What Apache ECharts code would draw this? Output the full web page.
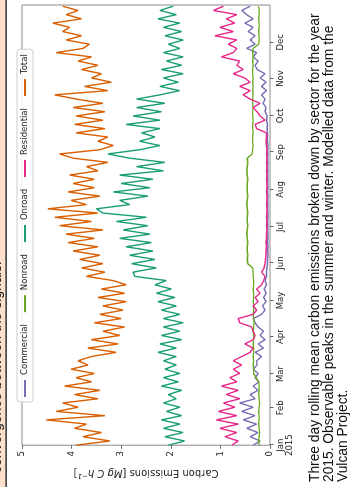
<!DOCTYPE html>
<html>
<head>
<meta charset="utf-8">
<script src="https://cdn.jsdelivr.net/npm/echarts@6/dist/echarts.min.js"></script>
<style>
  html, body { margin: 0; padding: 0; background: #fff; overflow: hidden; }
  /* the page is photographed turned a quarter turn, so the chart is drawn upright and rotated */
  #chart {
    position: absolute; left: 0; top: 0;
    width: 487px; height: 357px;
    transform-origin: 0 0;
    transform: translate(0, 487px) rotate(-90deg);
  }
</style>
</head>
<body>
<div id="chart"></div>
<script>
// days since 1 Jan 2015, one sample every half week
const sampleDays = [0, 3.5, 7, 10.5, 14, 17.5, 21, 24.5, 28, 31.5, 35, 38.5, 42, 45.5, 49, 52.5, 56, 59.5, 63, 66.5,
  70, 73.5, 77, 80.5, 84, 87.5, 91, 94.5, 98, 101.5, 105, 108.5, 112, 115.5, 119, 122.5, 126, 129.5, 133, 136.5, 140,
  143.5, 147, 150.5, 154, 157.5, 161, 164.5, 168, 171.5, 175, 178.5, 182, 185.5, 189, 192.5, 196, 199.5, 203, 206.5, 210, 213.5,
  217, 220.5, 224, 227.5, 231, 234.5, 238, 241.5, 245, 248.5, 252, 255.5, 259, 262.5, 266, 269.5, 273, 276.5, 280, 283.5, 287, 290.5,
  294, 297.5, 301, 304.5, 308, 311.5, 315, 318.5, 322, 325.5, 329, 332.5, 336, 339.5, 343, 346.5, 350, 353.5, 357, 360.5, 364];

const commercial = [0.34, 0.20, 0.40, 0.24, 0.47, 0.27, 0.54, 0.30, 0.57, 0.34, 0.61, 0.30, 0.40, 0.24, 0.34, 0.22, 0.30, 0.24, 0.34, 0.26,
  0.27, 0.17, 0.30, 0.13, 0.24, 0.10, 0.20, 0.13, 0.24, 0.30, 0.34, 0.17, 0.10, 0.15, 0.08, 0.13, 0.08, 0.12, 0.07, 0.10, 0.07,
  0.07, 0.06, 0.05, 0.05, 0.04, 0.05, 0.04, 0.05, 0.04, 0.04, 0.05, 0.04, 0.05, 0.04, 0.04, 0.05, 0.04, 0.05, 0.04, 0.05, 0.04,
  0.05, 0.04, 0.05, 0.04, 0.05, 0.04, 0.05, 0.04, 0.05, 0.04, 0.05, 0.05, 0.05, 0.06, 0.05, 0.07, 0.06, 0.10, 0.08, 0.14, 0.10, 0.17,
  0.07, 0.17, 0.08, 0.20, 0.10, 0.26, 0.30, 0.24, 0.34, 0.27, 0.47, 0.30, 0.40, 0.30, 0.44, 0.34, 0.51, 0.34, 0.47, 0.57, 0.40];

const nonroad = [0.22, 0.23, 0.22, 0.21, 0.22, 0.23, 0.22, 0.22, 0.23, 0.22, 0.21, 0.22, 0.23, 0.22, 0.22, 0.23, 0.28, 0.33, 0.33, 0.34,
  0.33, 0.34, 0.33, 0.33, 0.34, 0.33, 0.33, 0.34, 0.33, 0.32, 0.33, 0.34, 0.33, 0.33, 0.34, 0.33, 0.33, 0.34, 0.33, 0.33, 0.34,
  0.34, 0.35, 0.45, 0.46, 0.45, 0.46, 0.46, 0.45, 0.46, 0.47, 0.46, 0.45, 0.46, 0.46, 0.45, 0.46, 0.47, 0.46, 0.45, 0.46, 0.46,
  0.46, 0.45, 0.46, 0.47, 0.46, 0.45, 0.46, 0.36, 0.35, 0.34, 0.35, 0.35, 0.34, 0.35, 0.35, 0.34, 0.35, 0.35, 0.34, 0.35, 0.35, 0.34,
  0.35, 0.34, 0.35, 0.34, 0.35, 0.35, 0.34, 0.35, 0.34, 0.35, 0.34, 0.23, 0.22, 0.22, 0.23, 0.22, 0.22, 0.23, 0.22, 0.22, 0.23];

const onroad = [2.05, 1.72, 2.12, 1.75, 2.15, 1.82, 2.19, 1.78, 2.09, 1.82, 2.15, 1.89, 2.05, 1.78, 2.19, 1.85, 2.15, 1.82, 2.12, 1.89,
  2.15, 1.89, 2.26, 1.89, 2.22, 1.78, 2.19, 1.82, 2.15, 1.75, 2.15, 1.82, 2.19, 1.89, 2.26, 1.92, 2.29, 1.99, 2.32, 2.09, 2.73,
  2.76, 2.29, 2.79, 2.32, 2.83, 2.36, 2.90, 2.39, 3.03, 2.42, 2.96, 2.46, 3.10, 2.49, 3.37, 3.50, 2.83, 3.03, 2.46, 3.16, 2.42,
  3.00, 2.36, 3.03, 2.15, 2.69, 2.12, 2.83, 3.27, 2.63, 2.22, 2.63, 2.32, 2.59, 2.22, 2.90, 2.22, 2.76, 2.19, 2.69, 2.12, 2.69, 2.22,
  1.82, 2.22, 1.85, 2.15, 1.75, 2.19, 1.78, 2.09, 1.75, 2.15, 1.82, 2.05, 1.75, 2.12, 1.78, 2.15, 1.82, 2.26, 1.89, 2.22, 1.95];

const residential = [0.77, 0.64, 0.91, 0.67, 1.01, 0.64, 1.08, 0.67, 1.04, 0.71, 0.94, 0.61, 0.88, 0.64, 0.98, 0.67, 0.81, 0.61, 0.74, 0.57,
  0.74, 0.57, 0.40, 0.34, 0.51, 0.34, 0.30, 0.34, 0.37, 0.61, 0.64, 0.34, 0.27, 0.34, 0.24, 0.30, 0.20, 0.27, 0.17, 0.13, 0.10,
  0.17, 0.12, 0.10, 0.09, 0.08, 0.08, 0.07, 0.08, 0.07, 0.07, 0.06, 0.07, 0.06, 0.07, 0.06, 0.06, 0.07, 0.06, 0.06, 0.07, 0.06,
  0.06, 0.07, 0.06, 0.07, 0.06, 0.07, 0.06, 0.07, 0.06, 0.07, 0.08, 0.07, 0.07, 0.27, 0.30, 0.10, 0.20, 0.26, 0.34, 0.20, 0.40, 0.54,
  0.40, 0.61, 0.40, 0.51, 0.74, 0.54, 0.67, 0.61, 0.98, 0.74, 0.67, 0.84, 0.67, 1.11, 0.74, 1.01, 0.71, 0.88, 0.67, 1.14, 0.94];

const total = [3.91, 3.23, 3.77, 3.40, 3.94, 3.70, 4.51, 3.33, 4.31, 3.87, 4.18, 3.47, 3.94, 3.43, 4.14, 3.60, 3.91, 3.54, 4.01, 3.67,
  3.87, 3.60, 3.10, 3.67, 3.06, 3.60, 3.03, 3.37, 2.93, 3.54, 3.00, 3.43, 2.96, 3.37, 2.90, 3.47, 2.93, 3.40, 2.90, 3.16, 3.70,
  3.33, 3.80, 3.37, 3.84, 3.43, 3.97, 3.47, 4.07, 3.54, 4.11, 3.37, 4.24, 3.60, 4.34, 3.47, 4.48, 3.70, 4.01, 3.43, 4.07, 3.54,
  3.97, 3.54, 4.04, 3.47, 3.70, 3.27, 3.97, 4.24, 3.43, 3.16, 3.47, 3.27, 3.91, 3.33, 3.94, 3.37, 3.91, 3.33, 3.97, 3.37, 3.91, 4.34,
  3.27, 3.74, 3.20, 3.60, 3.40, 3.80, 3.47, 3.87, 3.60, 4.31, 3.77, 3.64, 4.11, 3.80, 4.18, 4.04, 4.38, 3.80, 4.11, 3.87, 4.18];

const monthDays = [0, 31, 59, 90, 120, 151, 181, 212, 243, 273, 304, 334];
const monthLabels = ['Jan\n2015', 'Feb', 'Mar', 'Apr', 'May', 'Jun', 'Jul', 'Aug', 'Sep', 'Oct', 'Nov', 'Dec'];
const valueTicks = [0, 1, 2, 3, 4, 5];

const sectorNames = ['Commercial', 'Nonroad', 'Onroad', 'Residential', 'Total'];
const sectorValues = [commercial, nonroad, onroad, residential, total];
const sectorColors = ['#7570b3', '#66a61e', '#1b9e77', '#e7298a', '#d95f02'];

const captionLines = [
  'Three day rolling mean carbon emissions broken down by sector for the year',
  '2015. Observable peaks in the summer and winter. Modelled data from the',
  'Vulcan Project.'
];

const myChart = echarts.init(document.getElementById('chart'), null, { renderer: 'canvas' });
const FONT = 'DejaVu Sans';

const options = {
  animation: false,
  backgroundColor: '#fff',
  textStyle: { fontFamily: FONT },
  grid: {
    left: 37, right: 5, top: 22, bottom: 87,
    show: true, borderColor: '#8a8a8a', borderWidth: 1, backgroundColor: 'transparent'
  },
  legend: {
    data: sectorNames,
    left: 85, top: 17,
    padding: [3, 5],
    itemWidth: 17, itemHeight: 2, itemGap: 12,
    icon: 'rect',
    backgroundColor: 'rgba(255,255,255,0.85)',
    borderColor: '#cccccc', borderWidth: 1, borderRadius: 3,
    textStyle: { fontFamily: FONT, fontSize: 8.5, color: '#222', lineHeight: 10 }
  },
  xAxis: {
    type: 'value', min: 0, max: 365,
    axisLine: { show: false },
    splitLine: { show: false },
    axisTick: { show: true, length: 3.5, lineStyle: { color: '#666' }, customValues: monthDays },
    axisLabel: {
      customValues: monthDays,
      fontFamily: FONT, fontSize: 8.5, color: '#222', margin: 6, lineHeight: 9,
      formatter: v => monthLabels[monthDays.indexOf(v)]
    }
  },
  yAxis: {
    type: 'value', min: 0, max: 5, interval: 1,
    axisLine: { show: false },
    splitLine: { show: false },
    axisTick: { show: true, length: 3.5, lineStyle: { color: '#666' } },
    axisLabel: { fontFamily: FONT, fontSize: 8.5, color: '#222', margin: 6,
      formatter: v => valueTicks.indexOf(v) >= 0 ? String(v) : '' },
    name: '{n|Carbon Emissions [}{i|Mg C h}{s|\u22121}{n|]}',
    nameLocation: 'middle', nameGap: 18, nameRotate: 90,
    nameTextStyle: {
      rich: {
        n: { fontFamily: FONT, fontSize: 10, color: '#222' },
        i: { fontFamily: FONT, fontSize: 10, fontStyle: 'italic', color: '#222' },
        s: { fontFamily: FONT, fontSize: 7, fontStyle: 'italic', color: '#222', padding: [0, 0, 6, 0] }
      }
    }
  },
  series: sectorNames.map((name, k) => ({
    name,
    type: 'line',
    color: sectorColors[k],
    data: sampleDays.map((d, i) => [d, sectorValues[k][i]]),
    showSymbol: false,
    smooth: false,
    lineStyle: { width: 1.4 }
  })),
  graphic: [
    { type: 'rect', shape: { x: 0, y: 0, width: 487, height: 5.3 }, style: { fill: '#fddfc9' }, z: 10 },
    { type: 'text', x: 14, y: 4, z: 11,
      style: { text: 'convergence between the signals.', font: '14px "Liberation Sans"', fill: '#222', verticalAlign: 'bottom' } },
    { type: 'rect', shape: { x: 0, y: 5.3, width: 487, height: 1.8 }, style: { fill: '#4b4b4b' }, z: 12 },
    { type: 'rect', shape: { x: 0, y: -20, width: 487, height: 20 }, style: { fill: '#fddfc9' }, z: 12 },
    { type: 'text', x: 5, y: 308, z: 10,
      style: { text: captionLines.join('\n'), font: '13.8px "Liberation Sans"', lineHeight: 14, fill: '#111' } }
  ]
};

options && myChart.setOption(options);
</script>
</body>
</html>
